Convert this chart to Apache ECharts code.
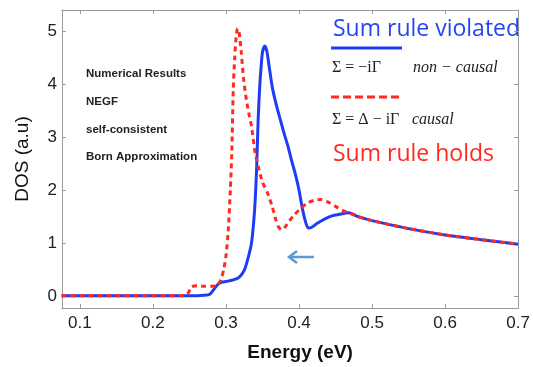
<!DOCTYPE html>
<html><head><meta charset="utf-8">
<script src="https://cdn.jsdelivr.net/npm/echarts@6/dist/echarts.min.js"></script>
<style>html,body{margin:0;padding:0;background:#fff}#c{width:533px;height:367px}</style>
</head><body><div id="c"></div>
<script>
const xTicks = [0.1, 0.2, 0.3, 0.4, 0.5, 0.6, 0.7];
const yTicks = [0, 1, 2, 3, 4, 5];

const blueE = [0.075,0.25,0.27,0.278,0.285,0.29,0.295,0.30,0.31,0.318,0.325,0.33,0.335,0.338,0.34,0.342,0.344,0.346,0.348,0.350,0.353,0.356,0.36,0.364,0.37,0.375,0.38,0.385,0.39,0.395,0.40,0.405,0.41,0.413,0.418,0.425,0.435,0.445,0.455,0.468,0.48,0.5,0.55,0.6,0.65,0.7];
const blueV = [0,0,0.01,0.03,0.15,0.23,0.26,0.27,0.30,0.35,0.48,0.7,1.0,1.4,1.8,2.4,3.3,3.9,4.3,4.6,4.72,4.62,4.25,3.9,3.55,3.3,3.05,2.82,2.55,2.3,2.0,1.62,1.35,1.28,1.3,1.37,1.45,1.51,1.54,1.57,1.5,1.42,1.27,1.15,1.06,0.975];

const redE = [0.075,0.24,0.248,0.253,0.26,0.27,0.28,0.288,0.293,0.297,0.30,0.303,0.306,0.308,0.31,0.312,0.314,0.316,0.318,0.321,0.324,0.328,0.332,0.335,0.34,0.345,0.35,0.357,0.363,0.368,0.372,0.376,0.381,0.387,0.393,0.40,0.41,0.42,0.43,0.44,0.45,0.46,0.47,0.48,0.5,0.55,0.6,0.65,0.7];
const redV = [0,0,0.05,0.17,0.19,0.18,0.18,0.2,0.3,0.5,0.75,1.2,2.0,2.7,3.9,4.5,4.9,5.05,4.98,4.6,4.12,3.7,3.4,3.2,2.7,2.4,2.15,1.94,1.7,1.45,1.3,1.25,1.3,1.42,1.52,1.62,1.74,1.8,1.82,1.77,1.69,1.61,1.56,1.5,1.42,1.27,1.15,1.06,0.975];

const pairs = (xs, ys) => xs.map((x, i) => [x, ys[i]]);
const BLUE = '#1f3cf5', RED = '#ff2a1f', AX = '#9a9a9a';

const chart = echarts.init(document.getElementById('c'));
const axCommon = {
  type: 'value',
  axisLine: { show: true, onZero: false, lineStyle: { color: AX, width: 1 } },
  splitLine: { show: false },
};
const txt = (x, y, s, font, fill) => ({ type: 'text', x: x, y: y,
  style: { text: s, font: font, fill: fill, verticalAlign: 'middle', textVerticalAlign: 'middle' } });
chart.setOption({
  animation: false,
  grid: { left: 62, top: 10, right: 10, bottom: 59 },
  xAxis: [
    Object.assign({}, axCommon, {
      min: 0.0756, max: 0.7, position: 'bottom',
      axisTick: { show: true, inside: true, length: 4, customValues: xTicks, lineStyle: { color: AX } },
      axisLabel: { customValues: xTicks, color: '#222', fontSize: 17, fontFamily: 'Liberation Sans', margin: 7, formatter: v => String(v) },
      name: 'Energy (eV)', nameLocation: 'middle', nameGap: 35,
      nameTextStyle: { color: '#111', fontSize: 19, fontWeight: 'bold', fontFamily: 'Liberation Sans', padding: [0, 0, 0, 20] }
    }),
    Object.assign({}, axCommon, {
      min: 0.0756, max: 0.7, position: 'top',
      axisTick: { show: true, inside: true, length: 4, customValues: xTicks, lineStyle: { color: AX } },
      axisLabel: { show: false }
    })
  ],
  yAxis: [
    Object.assign({}, axCommon, {
      min: -0.23, max: 5.4, position: 'left',
      axisTick: { show: true, inside: true, length: 4, customValues: yTicks, lineStyle: { color: AX } },
      axisLabel: { customValues: yTicks, color: '#222', fontSize: 17, fontFamily: 'Liberation Sans', margin: 5 },
      name: 'DOS (a.u)', nameLocation: 'middle', nameGap: 30, nameRotate: 90,
      nameTextStyle: { color: '#111', fontSize: 19, fontFamily: 'Liberation Sans' }
    }),
    Object.assign({}, axCommon, {
      min: -0.23, max: 5.4, position: 'right',
      axisTick: { show: true, inside: true, length: 4, customValues: yTicks, lineStyle: { color: AX } },
      axisLabel: { show: false }
    })
  ],
  series: [
    { type: 'line', data: pairs(redE, redV), showSymbol: false, smooth: 0.25,
      lineStyle: { color: RED, width: 3, type: [5, 4] }, z: 3 },
    { type: 'line', data: pairs(blueE, blueV), showSymbol: false, smooth: 0.25,
      lineStyle: { color: BLUE, width: 3 }, z: 2 }
  ],
  graphic: [
    txt(86, 74, 'Numerical Results', 'bold 11.5px "Liberation Sans"', '#222'),
    txt(86, 102, 'NEGF', 'bold 11.5px "Liberation Sans"', '#222'),
    txt(86, 130, 'self-consistent', 'bold 11.5px "Liberation Sans"', '#222'),
    txt(86, 157, 'Born Approximation', 'bold 11.5px "Liberation Sans"', '#222'),
    txt(333, 29, 'Sum rule violated', '23px "Open Sans"', '#2545ee'),
    { type: 'line', shape: { x1: 331, y1: 48, x2: 402, y2: 48 }, style: { stroke: BLUE, lineWidth: 3 } },
    txt(332, 68, 'Σ = −iΓ', '16px "Liberation Serif"', '#222'),
    txt(413, 68, 'non − causal', 'italic 16px "Liberation Serif"', '#222'),
    { type: 'line', shape: { x1: 331, y1: 97, x2: 402, y2: 97 }, style: { stroke: RED, lineWidth: 3, lineDash: [8, 4] } },
    txt(332, 120, 'Σ = Δ − iΓ', '16px "Liberation Serif"', '#222'),
    txt(412, 120, 'causal', 'italic 16px "Liberation Serif"', '#222'),
    txt(333, 154, 'Sum rule holds', '23px "Open Sans"', '#ff2a1f'),
    { type: 'polyline', shape: { points: [[314, 257], [289, 257]] }, style: { stroke: '#5b9bd5', lineWidth: 2.5, fill: null } },
    { type: 'polyline', shape: { points: [[297, 251], [289, 257], [297, 263]] }, style: { stroke: '#5b9bd5', lineWidth: 2.5, fill: null } }
  ]
});
</script></body></html>
